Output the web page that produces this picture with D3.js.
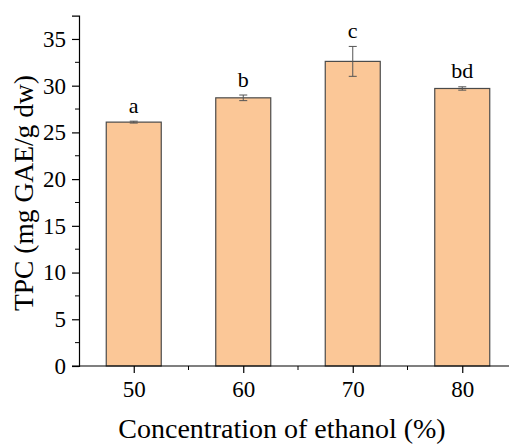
<!DOCTYPE html>
<html>
<head>
<meta charset="utf-8">
<script src="https://cdn.jsdelivr.net/npm/d3@7"></script>
<style>
  body { margin: 0; background: #fff; }
  svg text { font-family: "Liberation Serif", "Times New Roman", serif; fill: #000; }
</style>
</head>
<body>
<svg id="chart" width="509" height="445"></svg>
<script>
// data
const concentrations = [50, 60, 70, 80];
const tpc = [26.1, 28.7, 32.6, 29.7];
const tpcErr = [0.1, 0.3, 1.6, 0.18];
const letters = ["a", "b", "c", "bd"];
const yTicks = [0, 5, 10, 15, 20, 25, 30, 35];

const svg = d3.select("#chart");
const plotLeft = 79, plotBottom = 366, plotTop = 15.6;

const x = d3.scaleLinear().domain([45, 85]).range([plotLeft, 517]);
const y = d3.scaleLinear().domain([0, 37.5]).range([plotBottom, plotTop]);
const barW = 55;

// bars
svg.selectAll("rect.bar")
    .data(concentrations)
    .enter().append("rect")
    .attr("class", "bar")
    .attr("x", d => x(d) - barW / 2)
    .attr("y", (d, i) => y(tpc[i]))
    .attr("width", barW)
    .attr("height", (d, i) => plotBottom - y(tpc[i]))
    .attr("fill", "#fbc797")
    .attr("stroke", "#4a4a4a")
    .attr("stroke-width", 1.2);

// error bars
const err = svg.selectAll("g.err")
    .data(concentrations)
    .enter().append("g")
    .attr("class", "err")
    .attr("stroke", "#555")
    .attr("stroke-width", 1);
err.append("line")
    .attr("x1", d => x(d)).attr("x2", d => x(d))
    .attr("y1", (d, i) => y(tpc[i] - tpcErr[i]))
    .attr("y2", (d, i) => y(tpc[i] + tpcErr[i]));
err.append("line")
    .attr("x1", d => x(d) - 4).attr("x2", d => x(d) + 4)
    .attr("y1", (d, i) => y(tpc[i] + tpcErr[i]))
    .attr("y2", (d, i) => y(tpc[i] + tpcErr[i]));
err.append("line")
    .attr("x1", d => x(d) - 4).attr("x2", d => x(d) + 4)
    .attr("y1", (d, i) => y(tpc[i] - tpcErr[i]))
    .attr("y2", (d, i) => y(tpc[i] - tpcErr[i]));

// significance letters
svg.selectAll("text.letter")
    .data(concentrations)
    .enter().append("text")
    .attr("class", "letter")
    .attr("x", d => x(d))
    .attr("y", (d, i) => y(tpc[i] + tpcErr[i]) - 8.5)
    .attr("text-anchor", "middle")
    .style("font-size", "22px")
    .text((d, i) => letters[i]);

// y axis
const yAxis = svg.append("g")
    .attr("transform", `translate(${plotLeft},0)`)
    .call(d3.axisLeft(y).tickValues(yTicks).tickSize(7).tickPadding(6).tickFormat(d3.format("d")));
yAxis.append("g")
    .selectAll("line")
    .data(d3.range(2.5, 37.5, 5))
    .enter().append("line")
    .attr("x1", -4).attr("x2", 0)
    .attr("y1", d => y(d)).attr("y2", d => y(d))
    .attr("stroke", "#000");

// x axis
const xAxis = svg.append("g")
    .attr("transform", `translate(0,${plotBottom})`)
    .call(d3.axisBottom(x).tickValues(concentrations).tickSize(7).tickPadding(8).tickSizeOuter(0));
xAxis.select(".domain").attr("d", `M${plotLeft - 7},0H509`);
xAxis.append("g")
    .selectAll("line")
    .data([55, 65, 75])
    .enter().append("line")
    .attr("x1", d => x(d)).attr("x2", d => x(d))
    .attr("y1", 0).attr("y2", 4)
    .attr("stroke", "#000");

svg.selectAll(".tick text")
    .attr("font-family", "Liberation Serif, serif")
    .style("font-family", "'Liberation Serif', serif")
    .style("font-size", "23px");
svg.selectAll(".domain, .tick line").attr("stroke", "#000").attr("stroke-width", 1.2);

// axis titles
svg.append("text")
    .attr("x", 282).attr("y", 438)
    .attr("text-anchor", "middle")
    .style("font-size", "28px")
    .text("Concentration of ethanol (%)");

svg.append("text")
    .attr("transform", "translate(33,193) rotate(-90)")
    .attr("text-anchor", "middle")
    .style("font-size", "27.5px")
    .text("TPC (mg GAE/g dw)");
</script>
</body>
</html>
